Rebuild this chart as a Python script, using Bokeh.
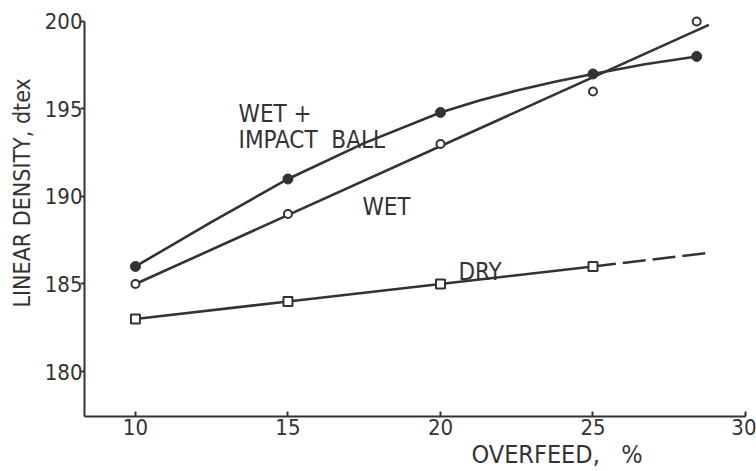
import math
from bokeh.plotting import figure
from bokeh.models import Label, FixedTicker, Range1d, Title
from bokeh.embed import file_html
from bokeh.resources import INLINE

# ---- data ----
x_ticks = [10, 15, 20, 25, 30]
y_ticks = [180, 185, 190, 195, 200]

impact_x = [10, 15, 20, 25, 28.4]
impact_y = [186, 191, 194.8, 197.0, 198.0]

wet_x = [10, 15, 20, 25, 28.4]
wet_y = [185, 189, 193, 196, 200]

dry_x = [10, 15, 20, 25]
dry_y = [183, 184, 185, 186]

# fitted (hand-drawn) curves
impact_fit_x = [10, 12.5, 15, 17.5, 20, 21.25, 22.5, 23.75, 25, 26.7, 28.4]
impact_fit_y = [186, 188.55, 191, 193.05, 194.8, 195.47, 196.05, 196.55, 197.0, 197.55, 198.0]
wet_fit_x = [10, 28.8]
wet_fit_y = [185, 199.8]
dry_ext_x = [25, 28.9]
dry_ext_y = [186, 186.8]

INK = "#333333"
FONT = "Liberation Sans Narrow, DejaVu Sans Condensed, Roboto Condensed, sans-serif"
NB = "\u00a0"

X0, X1 = 8.33, 30.0
Y0, Y1 = 177.43, 200.51

p = figure(width=756, height=471, output_backend="svg", toolbar_location=None,
           x_range=Range1d(X0, X1), y_range=Range1d(Y0, Y1),
           min_border_left=84, min_border_right=11, min_border_top=12, min_border_bottom=55)
p.outline_line_color = None
p.xgrid.visible = False
p.ygrid.visible = False
p.background_fill_color = "white"

for ax in (p.xaxis[0], p.yaxis[0]):
    ax.axis_line_color = INK
    ax.axis_line_width = 2
    ax.major_tick_line_color = INK
    ax.major_tick_line_width = 2
    ax.minor_tick_line_color = None
    ax.major_label_text_font = FONT
    ax.major_label_text_font_size = "22px"
    ax.major_label_text_color = INK

p.xaxis.ticker = FixedTicker(ticks=x_ticks)
p.yaxis.ticker = FixedTicker(ticks=y_ticks)
p.xaxis.bounds = (X0, 30)
p.yaxis.bounds = (Y0, 200)
p.xaxis.major_tick_in = 5
p.xaxis.major_tick_out = 0
p.xaxis.major_label_standoff = 2
p.yaxis.major_tick_in = 0
p.yaxis.major_tick_out = 4
p.yaxis.major_label_standoff = -2

# curves
p.line(impact_fit_x, impact_fit_y, line_color=INK, line_width=2.6, line_join="round")
p.line(wet_fit_x, wet_fit_y, line_color=INK, line_width=2.6)
p.line(dry_x, dry_y, line_color=INK, line_width=2.6)
p.line(dry_ext_x, dry_ext_y, line_color=INK, line_width=2.6, line_dash="23 7")

# markers
p.scatter(impact_x, impact_y, marker="circle", size=10, fill_color=INK, line_color=INK)
p.scatter(wet_x, wet_y, marker="circle", size=8, fill_color="white", line_color=INK, line_width=2)
p.scatter(dry_x, dry_y, marker="square", size=9, fill_color="white", line_color=INK, line_width=2)

def lab(txt, x, y, size="24px"):
    p.add_layout(Label(x=x, y=y, text=txt, text_font=FONT, text_font_size=size,
                       text_color=INK, text_baseline="alphabetic"))

lab("WET +", 13.38, 194.74)
lab("IMPACT" + NB + NB + "BALL", 13.38, 193.2)
lab("WET", 17.44, 189.37)
lab("DRY", 20.59, 185.71)

# axis titles placed as titles so they are not clipped by the frame
xt = Title(text="OVERFEED," + NB + NB + NB + "%", align="left", offset=387, text_font=FONT,
           text_font_size="25px", text_color=INK, text_font_style="normal", standoff=0)
p.add_layout(xt, "below")
yt = Title(text="LINEAR DENSITY, dtex", align="left", offset=109, text_font=FONT,
           text_font_size="23px", text_color=INK, text_font_style="normal", standoff=13)
p.add_layout(yt, "left")

open("out.html", "w").write(file_html(p, INLINE))
